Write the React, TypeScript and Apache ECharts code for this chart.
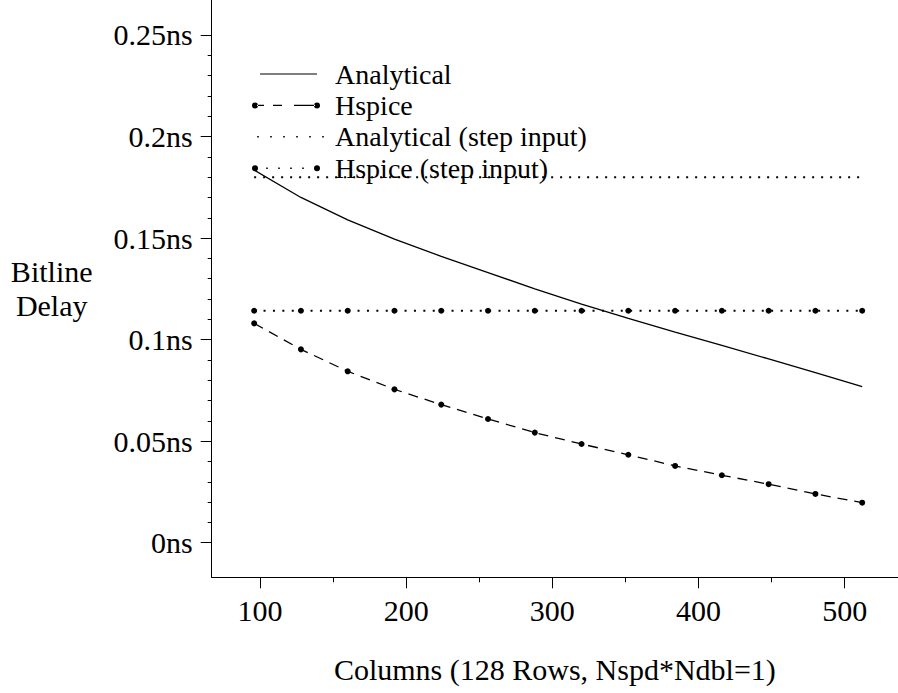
import { useEffect, useRef } from 'react';
import * as echarts from 'echarts';

// ---- data ----
const columns = [96, 128, 160, 192, 224, 256, 288, 320, 352, 384, 416, 448, 480, 512];
const analytical = [0.1835, 0.17, 0.159, 0.1495, 0.141, 0.133, 0.125, 0.1175, 0.1105, 0.1037, 0.0972, 0.0905, 0.0838, 0.0768];
const hspice = [0.108, 0.0952, 0.0844, 0.0755, 0.068, 0.0609, 0.0542, 0.0486, 0.0433, 0.0378, 0.0332, 0.0288, 0.024, 0.0197];
const analyticalStep = [0.18, 0.18, 0.18, 0.18, 0.18, 0.18, 0.18, 0.18, 0.18, 0.18, 0.18, 0.18, 0.18, 0.18];
const hspiceStep = [0.1142, 0.1142, 0.1142, 0.1142, 0.1142, 0.1142, 0.1142, 0.1142, 0.1142, 0.1142, 0.1142, 0.1142, 0.1142, 0.1142];

const seriesNames = ['Analytical', 'Hspice', 'Analytical (step input)', 'Hspice (step input)'];

const xMajorTicks = [100, 200, 300, 400, 500];
const xMinorTicks = [150, 250, 350, 450];
const yMajorTicks = [0, 0.05, 0.1, 0.15, 0.2, 0.25];
const yMinorTicks = [
  0.01, 0.02, 0.03, 0.04, 0.06, 0.07, 0.08, 0.09, 0.11, 0.12, 0.13, 0.14,
  0.16, 0.17, 0.18, 0.19, 0.21, 0.22, 0.23, 0.24,
];

const X_MIN = 66.96;
const X_MAX = 536.5;
const Y_MIN = -0.01704;
const Y_MAX = 0.26723;

const FONT = "'Liberation Serif', 'Times New Roman', Times, serif";

// legend icons (viewbox 78 x 8)
const rect = (x0: number, x1: number, y0 = 3.4, y1 = 4.6) =>
  `M${x0} ${y0} L${x1} ${y0} L${x1} ${y1} L${x0} ${y1} Z `;
const dot = (cx: number, r: number) =>
  `M${cx - r} 4 A${r} ${r} 0 1 0 ${cx + r} 4 A${r} ${r} 0 1 0 ${cx - r} 4 Z `;
const frame = 'M0 0 M78 8 ';
const iconSolid = 'path://' + frame + rect(8, 65);
const iconDashed = 'path://' + frame + dot(3, 3) + rect(5, 12) + rect(21, 30) + rect(42, 63) + dot(65, 3);
const iconDotted = 'path://' + frame + [6, 19, 32, 45, 58, 71].map((x) => rect(x - 0.8, x + 0.8, 3.2, 4.8)).join('');
const iconDottedDots =
  'path://' + frame + dot(3, 3) + [15, 27, 39, 51].map((x) => rect(x - 0.8, x + 0.8, 3.2, 4.8)).join('') + dot(65, 3);

const pairs = (ys: number[]) => columns.map((c, i) => [c, ys[i]]);

export default function App() {
  const ref = useRef<HTMLDivElement>(null);
  useEffect(() => {
    if (!ref.current) return;
    const chart = echarts.init(ref.current, undefined, { renderer: 'svg' });
    const black = '#000';
    chart.setOption({
      animation: false,
      backgroundColor: '#fff',
      grid: { left: 211.7, right: 0, top: 0, bottom: 115.7, containLabel: false },
      legend: {
        orient: 'vertical',
        left: 247,
        top: 54,
        padding: 5,
        itemGap: 1.4,
        itemWidth: 78,
        itemHeight: 8,
        selectedMode: false,
        itemStyle: { color: black, borderWidth: 0 },
        textStyle: { fontFamily: FONT, fontSize: 28, color: black, lineHeight: 30 },
        data: [
          { name: seriesNames[0], icon: iconSolid },
          { name: seriesNames[1], icon: iconDashed },
          { name: seriesNames[2], icon: iconDotted },
          { name: seriesNames[3], icon: iconDottedDots },
        ],
      },
      xAxis: [
        {
          type: 'value',
          min: X_MIN,
          max: X_MAX,
          position: 'bottom',
          name: 'Columns (128 Rows, Nspd*Ndbl=1)',
          nameLocation: 'middle',
          nameGap: 77,
          nameTextStyle: { fontFamily: FONT, fontSize: 30, color: black },
          axisLine: { show: true, onZero: false, lineStyle: { color: black, width: 1 } },
          axisTick: { show: true, length: 11, customValues: xMajorTicks, lineStyle: { color: black, width: 1 } },
          axisLabel: {
            show: true,
            customValues: xMajorTicks,
            margin: 18,
            fontFamily: FONT,
            fontSize: 30,
            color: black,
            formatter: (v: number) => (xMajorTicks.includes(v) ? String(v) : ''),
          },
          splitLine: { show: false },
          minorTick: { show: false },
        },
        {
          type: 'value',
          min: X_MIN,
          max: X_MAX,
          position: 'bottom',
          axisLine: { show: false, onZero: false },
          axisTick: { show: true, length: 5, customValues: xMinorTicks, lineStyle: { color: black, width: 1 } },
          axisLabel: { show: false },
          splitLine: { show: false },
        },
      ],
      yAxis: [
        {
          type: 'value',
          min: Y_MIN,
          max: Y_MAX,
          position: 'left',
          name: 'Bitline\nDelay',
          nameLocation: 'middle',
          nameRotate: 0,
          nameGap: 160,
          nameTextStyle: {
            fontFamily: FONT,
            fontSize: 30,
            color: black,
            align: 'center',
            verticalAlign: 'middle',
            lineHeight: 34.5,
          },
          axisLine: { show: true, onZero: false, lineStyle: { color: black, width: 1 } },
          axisTick: { show: true, length: 11, customValues: yMajorTicks, lineStyle: { color: black, width: 1 } },
          axisLabel: {
            show: true,
            customValues: yMajorTicks,
            margin: 19,
            fontFamily: FONT,
            fontSize: 30,
            color: black,
            formatter: (v: number) =>
              yMajorTicks.some((t) => Math.abs(t - v) < 1e-9) ? `${parseFloat(v.toFixed(3))}ns` : '',
          },
          splitLine: { show: false },
          minorTick: { show: false },
        },
        {
          type: 'value',
          min: Y_MIN,
          max: Y_MAX,
          position: 'left',
          axisLine: { show: false, onZero: false },
          axisTick: { show: true, length: 4, customValues: yMinorTicks, lineStyle: { color: black, width: 1 } },
          axisLabel: { show: false },
          splitLine: { show: false },
        },
      ],
      series: [
        {
          name: seriesNames[0],
          type: 'line',
          data: pairs(analytical),
          symbol: 'none',
          smooth: false,
          color: black,
          lineStyle: { color: black, width: 1.3, type: 'solid' },
        },
        {
          name: seriesNames[1],
          type: 'line',
          data: pairs(hspice),
          symbol: 'circle',
          symbolSize: 6,
          color: black,
          itemStyle: { color: black },
          lineStyle: { color: black, width: 1.3, type: [10, 7] },
        },
        {
          name: seriesNames[2],
          type: 'line',
          data: pairs(analyticalStep),
          symbol: 'none',
          color: black,
          lineStyle: { color: black, width: 2, type: [2, 7] },
        },
        {
          name: seriesNames[3],
          type: 'line',
          data: pairs(hspiceStep),
          symbol: 'circle',
          symbolSize: 6,
          color: black,
          itemStyle: { color: black },
          lineStyle: { color: black, width: 2, type: [2, 7.4] },
        },
      ],
    });
    return () => chart.dispose();
  }, []);
  return (
    <div
      ref={ref}
      style={{ position: 'fixed', left: 0, top: 0, width: 898, height: 693, background: '#fff' }}
    />
  );
}
